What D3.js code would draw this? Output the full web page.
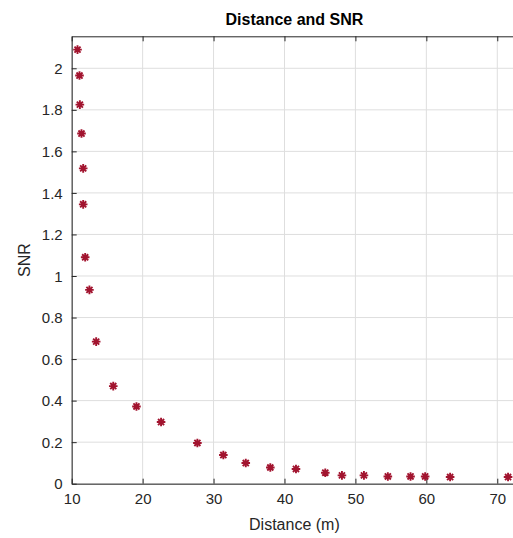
<!DOCTYPE html>
<html>
<head>
<meta charset="utf-8">
<script src="https://cdn.jsdelivr.net/npm/d3@7"></script>
<style>
  html, body { margin: 0; padding: 0; background: #fff; }
  svg { display: block; font-family: "Liberation Sans", Arial, Helvetica, sans-serif; }
</style>
</head>
<body>
<svg id="chart" width="513" height="538"></svg>
<script>
// Data
const distance = [10.82, 11.10, 11.15, 11.38, 11.62, 11.62, 11.90, 12.50, 13.45, 15.86,
                  19.13, 22.60, 27.72, 31.38, 34.54, 38.00, 41.62, 45.75, 48.10, 51.20,
                  54.57, 57.77, 59.83, 63.35, 71.52];
const snr = [2.090, 1.965, 1.825, 1.686, 1.518, 1.345, 1.090, 0.933, 0.684, 0.470,
             0.372, 0.297, 0.196, 0.138, 0.0995, 0.078, 0.071, 0.053, 0.040, 0.040,
             0.035, 0.035, 0.035, 0.032, 0.032];
const xTicks = [10, 20, 30, 40, 50, 60, 70];
const yTicks = [0, 0.2, 0.4, 0.6, 0.8, 1, 1.2, 1.4, 1.6, 1.8, 2];
const xDomain = [10, 72.8];
const yDomain = [0, 2.154];
const titleText = "Distance and SNR";
const xLabel = "Distance (m)";
const yLabel = "SNR";

(function () {
const svg = d3.select("#chart");
const pLeft = 71.7, pTop = 36.3, pBottom = 483.7;
const x = d3.scaleLinear().domain(xDomain).range([pLeft, pLeft + (xDomain[1] - xDomain[0]) * 7.093]);
const y = d3.scaleLinear().domain(yDomain).range([pBottom, pTop]);
const pRight = x(xDomain[1]);
const axisColor = "#262626";
const gridColor = "#dedede";

// grid
svg.append("g").selectAll("line").data(xTicks).join("line")
  .attr("x1", d => x(d)).attr("x2", d => x(d))
  .attr("y1", pTop).attr("y2", pBottom)
  .attr("stroke", gridColor).attr("stroke-width", 1);
svg.append("g").selectAll("line").data(yTicks).join("line")
  .attr("y1", d => y(d)).attr("y2", d => y(d))
  .attr("x1", pLeft).attr("x2", pRight)
  .attr("stroke", gridColor).attr("stroke-width", 1);

// axes
const xAxis = d3.axisBottom(x).tickValues(xTicks).tickSizeInner(-5).tickSizeOuter(0).tickPadding(10)
  .tickFormat(d3.format("d"));
const gx = svg.append("g").attr("transform", `translate(0,${pBottom})`).call(xAxis);
const yAxis = d3.axisLeft(y).tickValues(yTicks).tickSizeInner(-5).tickSizeOuter(0).tickPadding(9)
  .tickFormat(d => d3.format("~g")(d));
const gy = svg.append("g").attr("transform", `translate(${pLeft},0)`).call(yAxis);
const gxTop = svg.append("g").attr("transform", `translate(0,${pTop})`)
  .call(d3.axisTop(x).tickValues(xTicks).tickSizeInner(-5).tickSizeOuter(0).tickFormat(""));

[gx, gy, gxTop].forEach(g => {
  g.select(".domain").attr("stroke", axisColor).attr("stroke-width", 1);
  g.selectAll(".tick line").attr("stroke", axisColor).attr("stroke-width", 1);
  g.selectAll(".tick text").attr("fill", axisColor)
    .style("font-size", "15px").style("font-family", "'Liberation Sans', Arial, sans-serif");
});
gy.selectAll(".tick text").attr("dy", "0.34em");

// markers (asterisk)
const r = 4.3;
let starPath = "";
for (let k = 0; k < 4; k++) {
  const a = k * Math.PI / 4;
  const dx = r * Math.cos(a), dy = r * Math.sin(a);
  starPath += `M${-dx},${-dy}L${dx},${dy}`;
}
svg.append("g").selectAll("path").data(distance.map((d, i) => [d, snr[i]])).join("path")
  .attr("transform", d => `translate(${x(d[0])},${y(d[1])})`)
  .attr("d", starPath)
  .attr("stroke", "#A2142F").attr("stroke-width", 1.9).attr("fill", "none");

// title and labels
const cx = (pLeft + pRight) / 2;
svg.append("text").attr("x", cx).attr("y", 25).attr("text-anchor", "middle")
  .attr("fill", "#000").style("font-size", "16px").style("font-weight", "bold")
  .text(titleText);
svg.append("text").attr("x", cx).attr("y", 530).attr("text-anchor", "middle")
  .attr("fill", axisColor).style("font-size", "16px").text(xLabel);
svg.append("text").attr("transform", `translate(30,${(pTop + pBottom) / 2}) rotate(-90)`)
  .attr("text-anchor", "middle").attr("fill", axisColor).style("font-size", "16px").text(yLabel);
})();
</script>
</body>
</html>
